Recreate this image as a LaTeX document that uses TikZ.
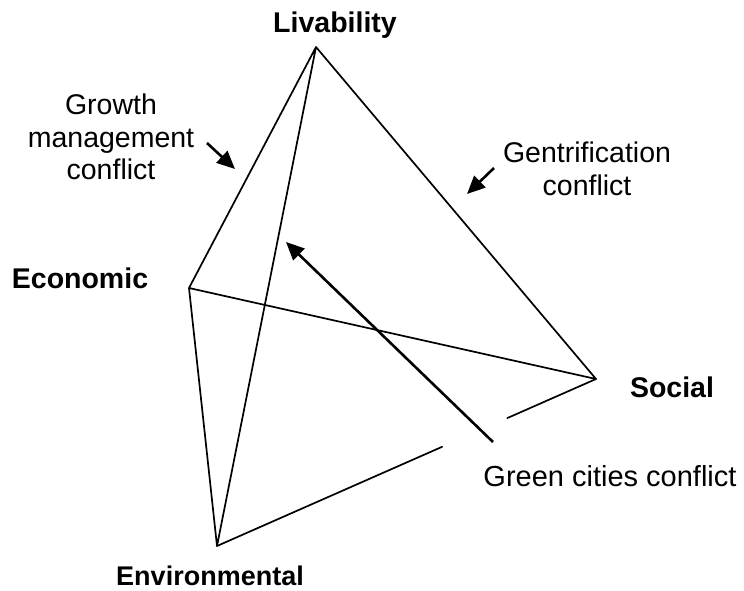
\documentclass[tikz,border=0pt]{standalone}
\usepackage{fontspec}
\setmainfont{Liberation Sans}
\usetikzlibrary{arrows.meta,calc}
\begin{document}
\begin{tikzpicture}[x=1pt,y=-1pt,
  edge/.style={line width=1.7pt,line cap=round,line join=round},
  pointer/.style={line width=2.6pt,-{Triangle[length=18pt,width=16pt]}},
  vlabel/.style={font=\fontsize{28.5}{33}\selectfont\bfseries,inner sep=0pt,anchor=base},
  clabel/.style={font=\fontsize{28.5}{32.5}\selectfont,inner sep=0pt,align=center,anchor=north}]
\useasboundingbox (0,0) rectangle (744,591);
\coordinate (L) at (316,47);
\coordinate (Ec) at (189,288);
\coordinate (S) at (596,379);
\coordinate (En) at (217,546);
\coordinate (g1) at ($(En)!0.594!(S)$);
\coordinate (g2) at ($(En)!0.766!(S)$);
\draw[edge] (Ec) -- (L) -- (S) -- (Ec) -- (En) -- (L);
\draw[edge] (En) -- (g1);
\draw[edge] (g2) -- (S);
% labels
\node[vlabel] (lliv) at (335,33) {Livability};
\node[vlabel] (leco) at (80,288) {Economic};
\node[vlabel] (lsoc) at (672,397) {Social};
\node[vlabel,font=\fontsize{27}{31}\selectfont\bfseries] (lenv) at (210,585) {Environmental};
\node[clabel] (lgro) at (111,94) {Growth\\management\\conflict};
\node[clabel] (lgen) at (587,142) {Gentrification\\conflict};
\node[vlabel,font=\fontsize{29}{33}\selectfont] (lgre) at (610,486) {Green cities conflict};
% pointers
\coordinate (a1s) at (207,143); \coordinate (a1e) at (235,169);
\coordinate (a2s) at (494,168); \coordinate (a2e) at (467,194);
\coordinate (a3s) at (493,442); \coordinate (a3e) at (286,242);
\draw[pointer] (a1s) -- (a1e);
\draw[pointer] (a2s) -- (a2e);
\draw[pointer] (a3s) -- (a3e);
\end{tikzpicture}
\end{document}
